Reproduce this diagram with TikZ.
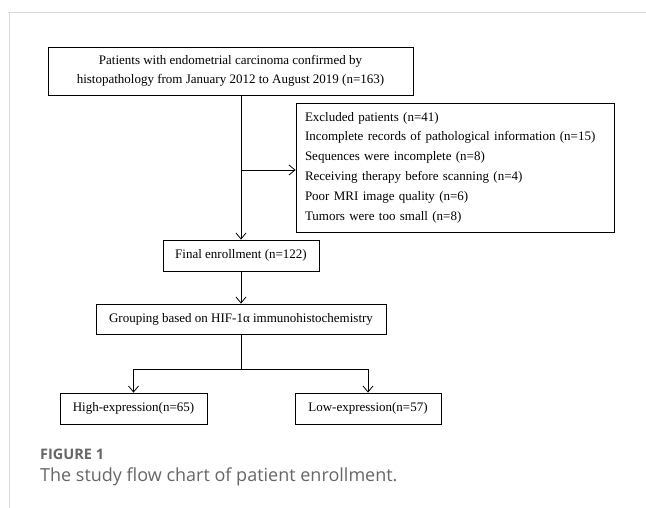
\documentclass[tikz,border=0pt]{standalone}
\usepackage{fontspec}
\setmainfont{Liberation Serif}
\newfontfamily\capfont{Open Sans}
\usepackage{tikz}
\usetikzlibrary{arrows.meta, positioning, calc}

\begin{document}
\begin{tikzpicture}[x=1pt, y=-1pt,
  box/.style={draw, line width=0.8pt, inner sep=0pt,
              font=\fontsize{13}{18.5}\selectfont, align=center},
  arr/.style={-{Straight Barb[length=6pt, width=10pt]}, line width=0.8pt},
  link/.style={line width=0.8pt},
  frame/.style={draw=black!15, line width=1pt},
  captxt/.style={anchor=base west, inner sep=0pt, text=black!60},
]
\useasboundingbox (0,0) rectangle (646,508);

% Frame
\draw[frame] (8,13) -- (646,13);
\draw[frame] (9,13) -- (9,508);

% Source
\node[box, minimum width=365pt, minimum height=48pt] (src) at (230.5,71)
  {Patients with endometrial carcinoma confirmed by\\
   histopathology from January 2012 to August 2019 (n=163)};

% Exclusions
\node[box, minimum width=318pt, minimum height=129pt, inner xsep=9pt,
      text width=300pt, align=left,
      font=\fontsize{13}{19.8}\selectfont] (excl) at (455,167.5)
  {Excluded patients (n=41)\\
   Incomplete records of pathological information (n=15)\\
   Sequences were incomplete (n=8)\\
   Receiving therapy before scanning (n=4)\\
   Poor MRI image quality (n=6)\\
   Tumors were too small (n=8)};

% Enrollment and grouping
\node[box, minimum width=156pt, minimum height=31pt] (final) at (241,255.5)
  {Final enrollment (n=122)};
\node[box, minimum width=290pt, minimum height=30pt] (group) at (241,319)
  {Grouping based on HIF-1α immunohistochemistry};

% Groups
\node[box, minimum width=147pt, minimum height=31pt] (high) at (133.5,408.5)
  {High-expression(n=65)};
\node[box, minimum width=146pt, minimum height=31pt] (low) at (368,408.5)
  {Low-expression(n=57)};

% Edges
\coordinate (split) at (241,170);
\coordinate (fork) at (241,369);
\draw[arr] (src.south -| final.north) -- (final.north);
\draw[arr] (split) -- (split -| excl.west);
\draw[arr] (final) -- (group);
\draw[link] (group.south) -- (fork);
\draw[arr] (fork) -| (high.north);
\draw[arr] (fork) -| (low.north);

% Caption
\node[captxt, font=\capfont\bfseries\fontsize{14.5}{16}\selectfont] (fig) at (40,459)
  {FIGURE 1};
\node[captxt, font=\capfont\fontsize{18}{20}\selectfont] (title) at (40,481)
  {The study flow chart of patient enrollment.};
\end{tikzpicture}
\end{document}
